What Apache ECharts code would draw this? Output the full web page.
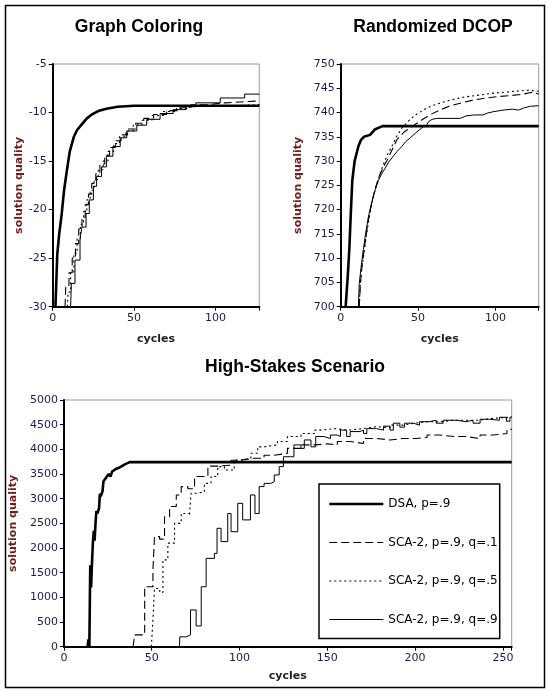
<!DOCTYPE html>
<html>
<head>
<meta charset="utf-8">
<script src="https://cdn.jsdelivr.net/npm/echarts@6/dist/echarts.min.js"></script>
<style>html,body{margin:0;padding:0;background:#fff}#c{width:549px;height:692px}</style>
</head>
<body>
<div id="c"></div>
<script>
// ---------- Data ----------
const titles = ['Graph Coloring', 'Randomized DCOP', 'High-Stakes Scenario'];
const seriesNames = ['DSA, p=.9', 'SCA-2, p=.9, q=.1', 'SCA-2, p=.9, q=.5', 'SCA-2, p=.9, q=.9'];

// Graph Coloring [cycle, quality]
const gcDSA = [[1.7,-30],[2.8,-24.6],[4,-22.5],[5.5,-20.5],[7,-18],[8.6,-16.1],[10.5,-14],[13,-12.5],[15,-11.8],[18,-11.2],[21,-10.6],[24,-10.2],[28,-9.85],[33,-9.6],[40,-9.4],[50,-9.3],[127,-9.3]];
const gcQ1 = [[7.6,-30],[8,-28],[10,-26.5],[12,-25],[14,-23.5],[16,-22],[18,-20.8],[20,-19.5],[22,-18.4],[24,-17.3],[26.5,-16.3],[29,-15.3],[32,-14.4],[35,-13.6],[38.5,-12.9],[42,-12.3],[46,-11.7],[51,-11.1],[56,-10.6],[62,-10.2],[70,-9.8],[78,-9.5],[85,-9.2],[95,-9.0],[106,-8.8],[127,-8.8]];
const gcQ5 = [[9,-30],[9.5,-28.5],[11,-26.5],[13,-24.5],[15,-23],[17,-21.5],[19,-20.2],[21,-19],[23,-18],[25.5,-16.9],[28,-15.9],[31,-15],[34,-14],[37.5,-13.2],[41,-12.5],[45,-11.9],[49.5,-11.3],[55,-10.8],[61,-10.3],[68,-9.9],[76,-9.6],[84,-9.35],[100,-9.2],[127,-9.1]];
const gcQ9 = [[11,-30],[11.5,-27.6],[13.7,-25.2],[16.8,-23],[18,-21.8],[20.5,-20.4],[22.5,-19],[25,-17.6],[27,-16.6],[30,-15.6],[33,-14.5],[37,-13.5],[41.5,-12.6],[45.5,-11.9],[51.7,-11.3],[57.8,-10.7],[66,-10.1],[74,-9.7],[82,-9.4],[88,-9.0],[103,-8.5],[118,-8.1],[127,-8.1]];

// Randomized DCOP
const dcDSA = [[3.2,700],[4.5,706],[5.6,712],[6.5,719],[7.5,726],[9,730],[11.4,733],[13,734.3],[15,735],[19,735.4],[22,736.5],[27,737.2],[128,737.2]];
const dcQ1 = [[12,700],[12.8,705],[14,709],[15.5,712.5],[17,716],[18.5,719],[20.5,722],[22.5,724.5],[25,727],[28,729],[31,730.8],[36.3,734.4],[41,736],[46,737.1],[52.5,738.5],[58,739.6],[64,740.5],[70,741.3],[78,742],[86,742.6],[94,743],[102,743.3],[110,743.5],[118,743.8],[124,744.2],[128,743.8]];
const dcQ5 = [[12,700],[12.5,704],[13.5,707.5],[15,711],[16.5,714.5],[18,717.5],[20,721],[22.2,724],[24.5,726.5],[27,728.8],[30,731.2],[33,733],[36,735],[39.5,736.8],[44,738.3],[48.2,739.5],[55,740.8],[60,741.5],[70,742.5],[80,743.2],[90,743.6],[99,744],[110,744.3],[120.5,744.6],[128,744.4]];
const dcQ9 = [[11.4,700],[12,704.8],[13.3,708.5],[14.6,711.7],[16.2,715.3],[17.9,718.5],[19.5,720.8],[21,722.7],[22.7,724.5],[24.4,726],[26.5,727.4],[28.7,728.5],[31,729.8],[34,731],[36.5,732],[39.5,733],[42,734],[45,734.8],[49.2,736],[53.5,737.1],[55,737.1],[56.8,738.1],[59,738.6],[62.2,738.8],[77.3,738.8],[81,739.3],[86,739.5],[92,739.5],[95,739.9],[99,740.2],[105,740.5],[111,740.7],[115,740.5],[118,740.9],[122.7,741.3],[128,741.4]];

// High-Stakes Scenario
const hsDSA = [[13.5,0],[14,150],[14.5,0],[15,1650],[15.5,1200],[16,1700],[16.5,2100],[17,2350],[17.5,2150],[18,2500],[18.5,2750],[19,2700],[20,2800],[20.5,3100],[21,3050],[22,3150],[22.5,3350],[23.5,3400],[24.5,3450],[25.5,3500],[26.5,3450],[27.5,3550],[28.5,3520],[29.5,3600],[31,3620],[33,3660],[35,3700],[37.5,3740],[255,3740]];
const hsQ1 = [[39.4,0],[40.3,240],[43,240],[46,1216],[50.7,1555],[51.6,2230],[54.5,2180],[57.3,2635],[60.2,2840],[64,3075],[66.8,3245],[70.6,3200],[74.4,3450],[78.2,3450],[82,3660],[87.6,3680],[95.2,3780],[100.8,3820],[108.5,3820],[114,3880],[119.8,3920],[127.3,4020],[135,4090],[142.6,4110],[150,4090],[155.7,4160],[163,4120],[170.6,4220],[178,4190],[185.7,4220],[193,4220],[200.6,4240],[206.8,4290],[214,4260],[222,4260],[229,4220],[237,4290],[244.5,4320],[252.3,4405],[255,4405]];
const hsQ5 = [[49.8,0],[50.8,610],[51.6,1180],[54.6,1100],[56.4,1760],[59.2,2100],[63,2500],[66.8,2700],[71.5,2650],[72.4,3110],[76.2,3140],[80,3310],[83.8,3450],[87.6,3650],[91.4,3580],[97,3785],[101,3820],[106.5,3920],[110.3,4050],[114,4090],[121.6,4160],[127.3,4260],[135,4320],[142.6,4390],[146.5,4420],[154,4390],[161.6,4420],[170.6,4460],[178,4440],[185.7,4490],[193,4530],[199.5,4560],[207,4560],[214.5,4590],[222,4590],[229.5,4590],[237,4630],[244.5,4650],[254,4660],[255,4660]];
const hsQ9 = [[65.8,0],[66,200],[69.6,240],[72.1,745],[75.3,420],[78.2,1215],[81,1790],[85.7,1890],[87.2,2400],[89.5,2130],[93.3,2700],[95.2,2330],[99,2905],[101.8,2570],[106.2,3075],[108.8,2700],[111.2,3245],[114,3310],[117.8,3345],[119.8,3480],[122.6,3650],[125,3850],[129,3850],[131,4090],[135,4020],[136.9,4190],[140.7,4050],[143.4,4260],[148,4220],[151.8,4290],[155.6,4260],[157.5,4390],[161,4260],[163,4360],[168.7,4390],[170.6,4320],[172.5,4420],[178,4390],[182,4470],[185.7,4390],[187.6,4530],[191.3,4450],[194,4530],[199,4490],[202.5,4560],[208,4590],[212,4530],[216,4590],[223.5,4560],[229,4590],[233,4530],[237,4610],[242.5,4590],[248,4650],[252,4570],[254,4650],[255,4650]];

// ---------- Chart ----------
const FONT = '"DejaVu Sans", Verdana, sans-serif';
const TICKC = '#1c1c4c';
const NAMEC = '#6b1f1f';

function xAxis(gi, max, gap) {
  return {
    type: 'value', gridIndex: gi, min: 0, max: max, interval: 50,
    name: 'cycles', nameLocation: 'middle', nameGap: gap,
    nameTextStyle: { fontFamily: FONT, fontWeight: 'bold', fontSize: 11, color: '#222' },
    axisLine: { lineStyle: { color: '#000', width: 2 } },
    axisTick: { length: 4, lineStyle: { color: '#000', width: 1 } },
    axisLabel: { fontFamily: FONT, fontSize: 11, color: TICKC, margin: 6,
      formatter: v => (v % 50 === 0 ? String(v) : '') },
    splitLine: { show: false }
  };
}
function yAxis(gi, min, max, interval, gap) {
  return {
    type: 'value', gridIndex: gi, min: min, max: max, interval: interval,
    name: 'solution quality', nameLocation: 'middle', nameGap: gap,
    nameTextStyle: { fontFamily: FONT, fontWeight: 'bold', fontSize: 11, color: NAMEC },
    axisLine: { show: true, lineStyle: { color: '#000', width: 2 } },
    axisTick: { show: true, length: 4, lineStyle: { color: '#000', width: 1 } },
    axisLabel: { fontFamily: FONT, fontSize: 11, color: TICKC, margin: 6, formatter: v => String(v) },
    splitLine: { show: false }
  };
}
function styleOf(kind) {
  const ls = { color: '#000' };
  if (kind === 'dsa') { ls.width = 2.6; ls.type = 'solid'; }
  else if (kind === 'dash') { ls.width = 1.1; ls.type = [8, 4]; }
  else if (kind === 'dot') { ls.width = 1.1; ls.type = [2, 3]; }
  else { ls.width = 1; ls.type = 'solid'; }
  return ls;
}
function ser(name, data, gi, kind, step) {
  return {
    type: 'line', name: name, data: data, xAxisIndex: gi, yAxisIndex: gi,
    symbol: 'none', step: step || false, lineStyle: styleOf(kind), itemStyle: { color: '#000' },
    z: kind === 'dsa' ? 5 : 3, animation: false, silent: true, clip: true
  };
}

const chart = echarts.init(document.getElementById('c'), null, { renderer: 'canvas' });
const txt = (t, x, y, size) => ({
  type: 'text', x: x, y: y,
  style: { text: t, fontFamily: '"Liberation Sans", Arial, sans-serif', fontWeight: 'bold', fontSize: size, fill: '#000', align: 'center', verticalAlign: 'middle' }
});
const legKinds = ['dsa', 'dash', 'dot', 'thin'];

chart.setOption({
  backgroundColor: '#fff',
  animation: false,
  graphic: [
    { type: 'rect', shape: { x: 5.5, y: 5.5, width: 539, height: 682 }, style: { fill: 'none', stroke: '#000', lineWidth: 1.5 }, z: 100 },
    txt(titles[0], 139, 27, 17.5),
    txt(titles[1], 433, 27, 17.5),
    txt(titles[2], 295, 367, 17.5)
  ],
  grid: [
    { left: 52.7, top: 64, width: 206.6, height: 242.7, show: true, borderColor: '#9a9a9a', borderWidth: 1, containLabel: false },
    { left: 340.7, top: 64, width: 198, height: 242.7, show: true, borderColor: '#9a9a9a', borderWidth: 1, containLabel: false },
    { left: 62.3, top: 400, width: 449.4, height: 246.7, show: true, borderColor: '#9a9a9a', borderWidth: 1, containLabel: false }
  ],
  xAxis: [xAxis(0, 127, 27), xAxis(1, 128, 27), xAxis(2, 255, 24)],
  yAxis: [yAxis(0, -30, -5, 5, 22), yAxis(1, 700, 750, 5, 37), yAxis(2, 0, 5000, 500, 33)],
  legend: {
    data: seriesNames.map((n, i) => ({ name: n, lineStyle: styleOf(legKinds[i]), itemStyle: { opacity: 0 } })),
    orient: 'vertical', left: 319, top: 484, width: 181,
    padding: [14, 2, 13, 9], itemGap: 26.5, itemWidth: 54, itemHeight: 14,
    borderColor: '#000', borderWidth: 1.5, backgroundColor: '#fff',
    itemStyle: { opacity: 0 },
    textStyle: { fontFamily: FONT, fontSize: 12, color: '#000' },
    selectedMode: false
  },
  series: [
    ser('gc1', gcQ1, 0, 'dash', 'end'),
    ser('gc5', gcQ5, 0, 'dot', 'end'),
    ser('gc9', gcQ9, 0, 'thin', 'end'),
    ser('gcD', gcDSA, 0, 'dsa'),
    ser('dc1', dcQ1, 1, 'dash'),
    ser('dc5', dcQ5, 1, 'dot'),
    ser('dc9', dcQ9, 1, 'thin'),
    ser('dcD', dcDSA, 1, 'dsa'),
    ser(seriesNames[1], hsQ1, 2, 'dash', 'end'),
    ser(seriesNames[2], hsQ5, 2, 'dot', 'end'),
    ser(seriesNames[3], hsQ9, 2, 'thin', 'end'),
    ser(seriesNames[0], hsDSA, 2, 'dsa')
  ]
});
</script>
</body>
</html>
